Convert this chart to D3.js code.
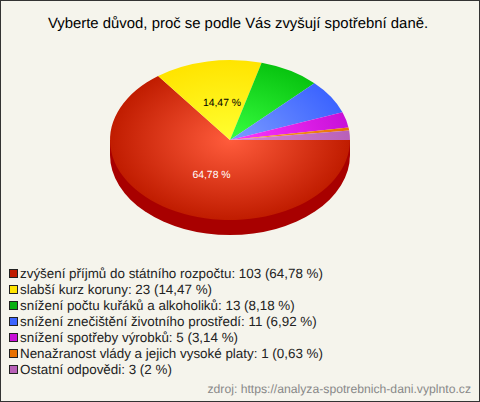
<!DOCTYPE html>
<html><head><meta charset="utf-8">
<script src="https://cdn.jsdelivr.net/npm/d3@7/dist/d3.min.js"></script>
<style>html,body{margin:0;padding:0;background:#f5f4ec}svg{display:block}text{font-family:"Liberation Sans",Arial,sans-serif;text-rendering:geometricPrecision}</style>
</head><body><svg id="c" width="480" height="402"></svg>
<script>
const titleText = "Vyberte důvod, proč se podle Vás zvyšují spotřební daně.";
const categories = ["zvýšení příjmů do státního rozpočtu","slabší kurz koruny","snížení počtu kuřáků a alkoholiků","snížení znečištění životního prostředí","snížení spotřeby výrobků","Nenažranost vlády a jejich vysoké platy","Ostatní odpovědi"];
const counts = [103,23,13,11,5,1,3];
const percents = ["64,78","14,47","8,18","6,92","3,14","0,63","2"];
const centerColors = ["#ff5c3c","#ffff30","#38ff40","#7c9cff","#ff38ff","#ffa030","#d888d8"];
const edgeColors = ["#c01c00","#ffe400","#08c410","#3c64ff","#c810d8","#e87000","#b860b8"];
const legendColors = ["#c01c00","#ffe400","#08b010","#3c64ff","#c810d8","#e87000","#b860b8"];
const sideColor = "#a80000";
const sourceText = "zdroj: https://analyza-spotrebnich-dani.vyplnto.cz";

const svg = d3.select("#c");
svg.append("rect").attr("x",.5).attr("y",.5).attr("width",479).attr("height",401).attr("fill","#f5f4ec").attr("stroke","#333");
svg.append("text").attr("x",238).attr("y",28).attr("text-anchor","middle").attr("font-size",14.9).attr("fill","#000").text(titleText);

const cx=230, cy=140, rx=120, ry=80, depth=15;
const pie = d3.pie().sort(null).startAngle(Math.PI/2).endAngle(Math.PI/2+2*Math.PI);
const arcs = pie(counts);
const arc = d3.arc().innerRadius(0).outerRadius(rx);
const defs = svg.append("defs");
arcs.forEach((d,i)=>{
  const g = defs.append("radialGradient").attr("id","g"+i).attr("gradientUnits","userSpaceOnUse").attr("cx",0).attr("cy",0).attr("r",rx);
  g.append("stop").attr("offset",0).attr("stop-color",centerColors[i]);
  g.append("stop").attr("offset",1).attr("stop-color",edgeColors[i]);
});
const sq = ry/rx;
const side = svg.append("g").attr("transform",`translate(${cx},${cy})`);
const frontArc = d3.arc().innerRadius(0).outerRadius(rx).startAngle(Math.PI/2).endAngle(3*Math.PI/2);
side.append("path").attr("transform",`translate(0,${depth}) scale(1,${sq})`).attr("d",frontArc()).attr("fill",sideColor);
side.append("rect").attr("x",-rx).attr("y",0).attr("width",2*rx).attr("height",depth).attr("fill",sideColor);

const disc = svg.append("g").attr("transform",`translate(${cx},${cy}) scale(1,${sq})`);
disc.selectAll("path").data(arcs).join("path").attr("d",arc).attr("fill",(d,i)=>`url(#g${i})`);

svg.append("text").attr("x",211.5).attr("y",178).attr("text-anchor","middle").attr("font-size",10.4).attr("fill","#fff").text(percents[0]+" %");
svg.append("text").attr("x",222).attr("y",106).attr("text-anchor","middle").attr("font-size",10.4).attr("fill","#000").text(percents[1]+" %");

const ly = d3.scalePoint().domain(d3.range(categories.length)).range([274,370]);
const lg = svg.append("g").selectAll("g").data(categories).join("g").attr("transform",(d,i)=>`translate(0,${ly(i)})`);
lg.append("rect").attr("x",9.5).attr("y",-4.5).attr("width",8).attr("height",8).attr("fill",(d,i)=>legendColors[i]).attr("stroke","#222");
lg.append("text").attr("x",20).attr("y",4).attr("font-size",13.4).attr("fill","#222").text((d,i)=>`${d}: ${counts[i]} (${percents[i]} %)`);
svg.append("text").attr("x",471).attr("y",393).attr("text-anchor","end").attr("font-size",12.2).attr("fill","#888").text(sourceText);
</script></body></html>
